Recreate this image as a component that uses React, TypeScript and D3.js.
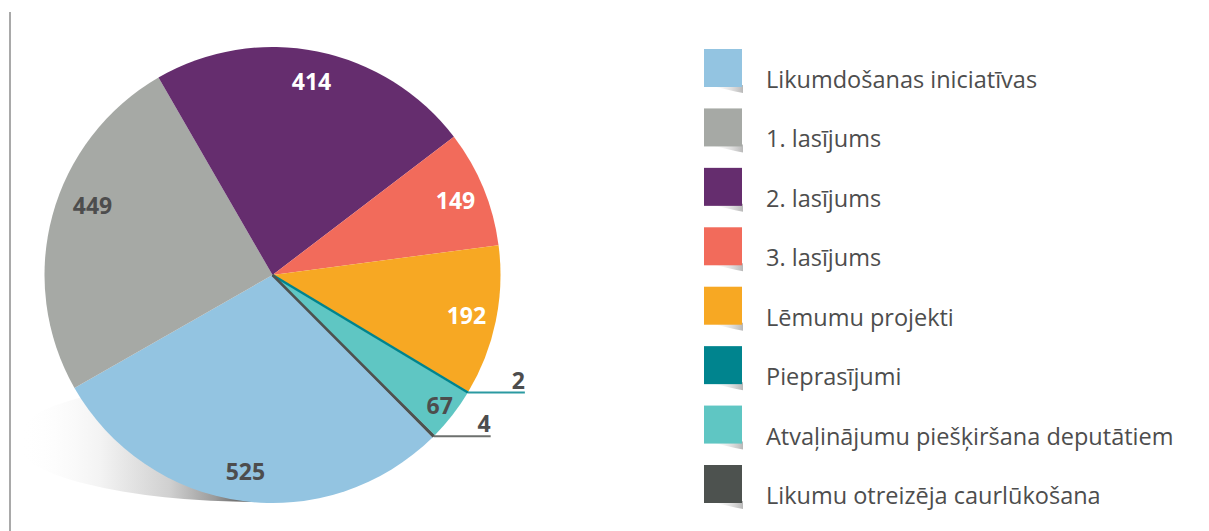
import * as d3 from "d3";

const categories = [
  "Likumdošanas iniciatīvas",
  "1. lasījums",
  "2. lasījums",
  "3. lasījums",
  "Lēmumu projekti",
  "Pieprasījumi",
  "Atvaļinājumu piešķiršana deputātiem",
  "Likumu otreizēja caurlūkošana",
];
const values = [525, 449, 414, 149, 192, 2, 67, 4];
const colors = ["#93c4e1", "#a6a9a5", "#652d6e", "#f26b5b", "#f7a823", "#00848e", "#5fc6c3", "#4d524f"];
const labelColors = ["#4d4d4d", "#4d4d4d", "#fff", "#fff", "#fff", "#4d4d4d", "#4d4d4d", "#4d4d4d"];
// small slices get a leader line out to the right
const leader = [false, false, false, false, false, true, false, true];
const leaderColors = ["", "", "", "", "", "#2b9aa1", "", "#6d706e"];
// label placement tweaks: radius and angle shift (deg)
const labelR = [198, 193, 198, 198, 198, 0, 212, 0];
const labelShift = [0, 6, 0, 0, 0, 0, 0, 0];

const W = 1209;
const H = 531;
const cx = 272.5;
const cy = 275;
const R = 228;
const FONT = "'Open Sans', 'DejaVu Sans', sans-serif";

export default function App() {
  const total = d3.sum(values);
  // "2. lasījums" slice starts at -30deg (clockwise from 12 o'clock)
  const before = values[0] + values[1];
  const start = (-30 * Math.PI) / 180 - (before / total) * 2 * Math.PI;
  const pie = d3
    .pie<number>()
    .sort(null)
    .value((d) => d)
    .startAngle(start)
    .endAngle(start + 2 * Math.PI);
  const arcs = pie(values);
  const arc = d3.arc<d3.PieArcDatum<number>>().innerRadius(0).outerRadius(R);

  const legendY = d3.scaleLinear().domain([0, 7]).range([49, 465]);

  return (
    <svg width={W} height={H} style={{ position: "absolute", left: 0, top: 0 }}>
      <defs>
        <linearGradient id="shadow" gradientUnits="userSpaceOnUse" x1={20} x2={250} y1={0} y2={0}>
          <stop offset="0" stopColor="#fff" stopOpacity="0" />
          <stop offset="0.35" stopColor="#f3f3f3" />
          <stop offset="0.65" stopColor="#d0d0d0" />
          <stop offset="0.85" stopColor="#9a9a9a" />
          <stop offset="1" stopColor="#555" />
        </linearGradient>
        <linearGradient id="curl" x1="0" x2="1" y1="0" y2="0">
          <stop offset="0" stopColor="#fff" stopOpacity="0" />
          <stop offset="1" stopColor="#888" />
        </linearGradient>
        <clipPath id="shadowClip">
          <rect x={0} y={380} width={258} height={140} />
        </clipPath>
      </defs>
      <rect width={W} height={H} fill="#fff" />
      <line x1={10} x2={10} y1={12} y2={H} stroke="#a9a9a9" strokeWidth={2} />

      <g clipPath="url(#shadowClip)">
        <ellipse cx={258} cy={440} rx={244} ry={62} fill="url(#shadow)" />
      </g>

      <g transform={`translate(${cx},${cy})`}>
        {arcs.map((a, i) => (
          <path key={i} d={arc(a) ?? ""} fill={colors[i]} />
        ))}
        {/* thin slices drawn as radial strokes so they remain visible */}
        {arcs.map((a, i) =>
          leader[i] ? (
            <line
              key={"r" + i}
              x1={0}
              y1={0}
              x2={R * Math.sin((a.startAngle + a.endAngle) / 2)}
              y2={-R * Math.cos((a.startAngle + a.endAngle) / 2)}
              stroke={colors[i]}
              strokeWidth={2.5}
            />
          ) : null
        )}
        {arcs.map((a, i) => {
          if (leader[i]) {
            const mid = (a.startAngle + a.endAngle) / 2;
            const x0 = R * Math.sin(mid);
            const y0 = -R * Math.cos(mid);
            const len = 57;
            return (
              <g key={"l" + i}>
                <line x1={x0} x2={x0 + len} y1={y0} y2={y0} stroke={leaderColors[i]} strokeWidth={2} />
                <text
                  x={x0 + len}
                  y={y0 - 4}
                  textAnchor="end"
                  fontFamily={FONT}
                  fontWeight="bold"
                  fontSize={23}
                  fill={labelColors[i]}
                >
                  {values[i]}
                </text>
              </g>
            );
          }
          const mid = (a.startAngle + a.endAngle) / 2 + (labelShift[i] * Math.PI) / 180;
          const lx = labelR[i] * Math.sin(mid);
          const ly = -labelR[i] * Math.cos(mid);
          return (
            <text
              key={"t" + i}
              x={lx}
              y={ly}
              textAnchor="middle"
              dominantBaseline="central"
              fontFamily={FONT}
              fontWeight="bold"
              fontSize={23}
              fill={labelColors[i]}
            >
              {values[i]}
            </text>
          );
        })}
      </g>

      <g>
        {categories.map((c, i) => {
          const y = legendY(i);
          return (
            <g key={c} transform={`translate(704,${y})`}>
              <path d="M4,36 Q24,41 39,44 L39,36 Z" fill="url(#curl)" opacity={0.6} />
              <rect width={38} height={38} fill={colors[i]} />
              <text x={62} y={39} fontFamily={FONT} fontSize={23.5} fill="#4d4d4d">
                {c}
              </text>
            </g>
          );
        })}
      </g>
    </svg>
  );
}
